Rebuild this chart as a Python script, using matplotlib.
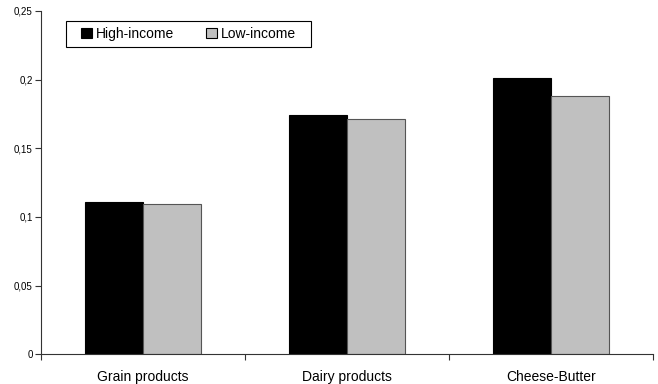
import matplotlib
matplotlib.use("Agg")
import matplotlib.pyplot as plt
import numpy as np
from matplotlib.patches import Rectangle
from matplotlib.ticker import FuncFormatter, FixedLocator

plt.rcParams["font.family"] = ["Liberation Sans", "DejaVu Sans"]

# Data
categories = ["Grain products", "Dairy products", "Cheese-Butter"]
high_income = [0.111, 0.174, 0.201]
low_income = [0.1095, 0.171, 0.188]
series_names = ["High-income", "Low-income"]

fig = plt.figure(figsize=(6.58, 3.84), dpi=100)
ax = fig.add_axes([0.0623, 0.0773, 0.9301, 0.8941])

x = np.arange(len(categories))
width = 0.285

ax.bar(x - width / 2, high_income, width, color="black", edgecolor="black",
       linewidth=0.8, label=series_names[0])
ax.bar(x + width / 2, low_income, width, color="#c0c0c0", edgecolor="#555555",
       linewidth=0.8, label=series_names[1])

ax.set_xlim(-0.5, len(categories) - 0.5)
ax.set_ylim(0, 0.25)

# y axis, comma decimals
ax.set_yticks(np.arange(0, 0.2501, 0.05))
ax.yaxis.set_major_formatter(FuncFormatter(lambda v, p: f"{v:g}".replace(".", ",")))
ax.tick_params(axis="y", labelsize=7, length=4, width=0.8, direction="out",
               color="#333333", pad=2)

# category labels in the middle, ticks on the boundaries
ax.xaxis.set_major_locator(FixedLocator(np.arange(-0.5, len(categories), 1.0)))
ax.xaxis.set_major_formatter(FuncFormatter(lambda v, p: ""))
ax.xaxis.set_minor_locator(FixedLocator(x))
ax.set_xticklabels(categories, minor=True)
ax.tick_params(axis="x", which="major", length=4, width=0.8, direction="out",
               color="#333333")
ax.tick_params(axis="x", which="minor", length=0, labelsize=10, pad=11)

for side in ["top", "right"]:
    ax.spines[side].set_visible(False)
for side in ["left", "bottom"]:
    ax.spines[side].set_color("#333333")
    ax.spines[side].set_linewidth(0.8)

# legend box drawn separately so the inner padding can match
ax.add_patch(Rectangle((0.0408, 0.896), 0.4004, 0.0757, transform=ax.transAxes,
                       facecolor="white", edgecolor="black", linewidth=0.8,
                       zorder=4))
leg = ax.legend(loc="center left", bbox_to_anchor=(0.066, 0.934), ncol=2,
                borderaxespad=0, borderpad=0, fontsize=10, frameon=False,
                handlelength=0.75, handleheight=0.75, handletextpad=0.3,
                columnspacing=2.3)
leg.set_zorder(5)
for h in leg.legend_handles:
    h.set_edgecolor("black")

fig.savefig("out.png", dpi=100)
